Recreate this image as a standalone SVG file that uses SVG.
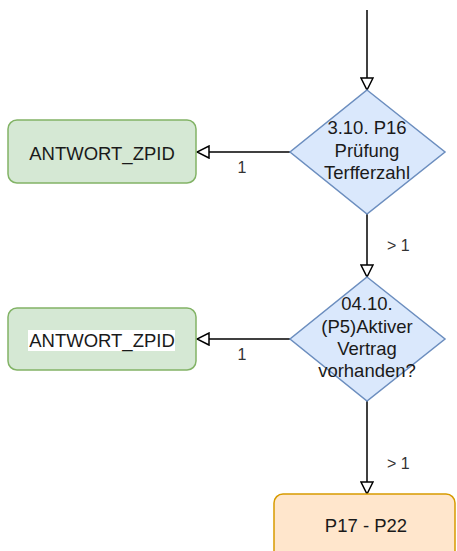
<svg xmlns="http://www.w3.org/2000/svg" width="457" height="551" viewBox="0 0 457 551">
<style>
.t{font-family:"Liberation Sans",Arial,sans-serif;font-size:18.5px;fill:#1a1a1a;text-anchor:middle}
.l{font-family:"Liberation Sans",Arial,sans-serif;font-size:16px;fill:#333}
.e{fill:none;stroke:#000;stroke-width:1.5;marker-end:url(#a)}
.d{fill:#dae8fc;stroke:#6c8ebf;stroke-width:1.5}
.g{fill:#d5e8d4;stroke:#82b366;stroke-width:1.5}
</style>
<defs>
<marker id="a" viewBox="0 0 14 14" refX="13" refY="7" markerWidth="14" markerHeight="14" markerUnits="userSpaceOnUse" orient="auto">
<path d="M1,1 L13,7 L1,13 Z" fill="#fff" stroke="#000" stroke-width="1.5"/>
</marker>
</defs>
<g id="connectors">
<path class="e" d="M367,10 L367,90"/>
<path class="e" d="M290,152 L197,152"/>
<path class="e" d="M367,214 L367,277"/>
<path class="e" d="M290,339 L197,339"/>
<path class="e" d="M367,401 L367,494"/>
<text class="l" x="242" y="173" text-anchor="middle">1</text>
<text class="l" x="242" y="360" text-anchor="middle">1</text>
<text class="l" x="387" y="251">&gt; 1</text>
<text class="l" x="387" y="469">&gt; 1</text>
</g>
<g id="d1">
<polygon class="d" points="367,90 445,152 367,214 290,152"/>
<text class="t" x="367" y="134">3.10. P16</text>
<text class="t" x="367" y="157">Prüfung</text>
<text class="t" x="367" y="179">Terfferzahl</text>
</g>
<g id="a1">
<rect class="g" x="8" y="120" width="188" height="63" rx="9"/>
<text class="t" x="102" y="160">ANTWORT_ZPID</text>
</g>
<g id="d2">
<polygon class="d" points="367,277 445,339 367,401 290,339"/>
<text class="t" x="367" y="310">04.10.</text>
<text class="t" x="367" y="333">(P5)Aktiver</text>
<text class="t" x="367" y="355">Vertrag</text>
<text class="t" x="367" y="377">vorhanden?</text>
</g>
<g id="a2">
<rect class="g" x="8" y="308" width="188" height="62" rx="9"/>
<rect x="28" y="330" width="147" height="21" fill="#fff"/>
<text class="t" x="102" y="347">ANTWORT_ZPID</text>
</g>
<g id="p17">
<rect x="274" y="494" width="181" height="70" rx="9" fill="#ffe6cc" stroke="#d79b00" stroke-width="1.5"/>
<text class="t" x="366" y="532">P17 - P22</text>
</g>
</svg>
